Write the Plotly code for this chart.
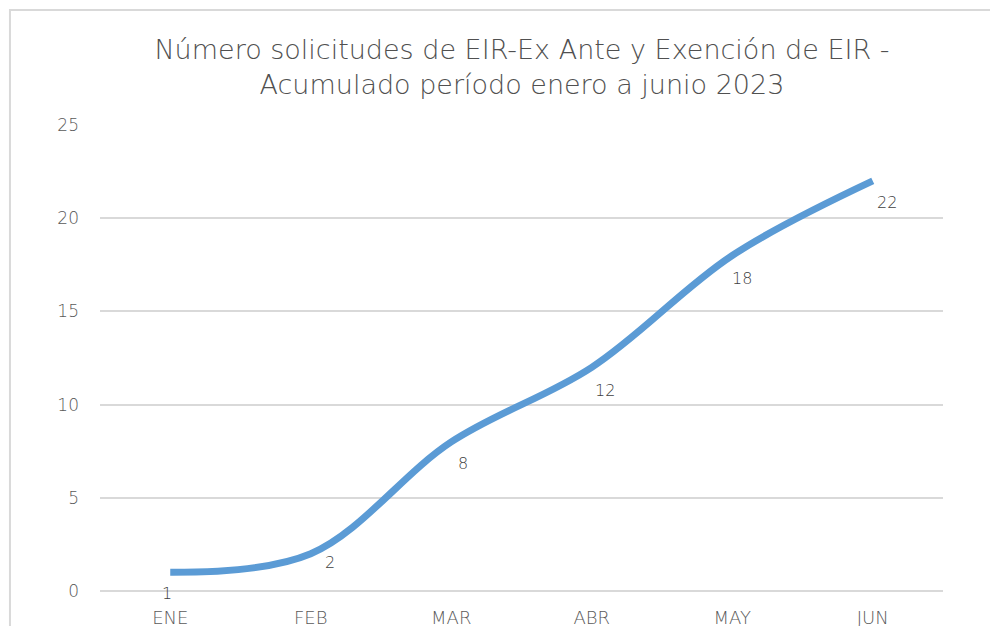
import plotly.graph_objects as go

meses = ["ENE", "FEB", "MAR", "ABR", "MAY", "JUN"]
acumulado = [1, 2, 8, 12, 18, 22]
# desplazamiento (px) de cada etiqueta respecto a su punto
etiqueta_dx = [-3, 19, 12, 13, 10, 14]
etiqueta_dy = [-21, -9, -22, -23, -23, -22]

FUENTE = "DejaVu Sans, Lato, sans-serif"

fig = go.Figure()
fig.add_trace(go.Scatter(
    x=meses, y=acumulado,
    mode="lines",
    line=dict(color="#5B9BD5", width=7, shape="spline", smoothing=1.0),
    hoverinfo="x+y",
))

for mes, val, dx, dy in zip(meses, acumulado, etiqueta_dx, etiqueta_dy):
    fig.add_annotation(x=mes, y=val, text=str(val), showarrow=False,
                       xshift=dx, yshift=dy,
                       font=dict(family=FUENTE, size=16, color="#404040", weight=200))

# borde del area del grafico (cortado a la derecha y abajo)
fig.add_shape(type="rect", xref="paper", yref="paper",
              x0=-0.1068, x1=1.3, y0=-0.3, y1=1.2468,
              line=dict(color="#d9d9d9", width=2), layer="below")

fig.update_layout(
    width=998, height=626,
    margin=dict(l=92, r=63, t=117, b=43, autoexpand=False),
    paper_bgcolor="white", plot_bgcolor="white",
    showlegend=False,
    title=dict(
        text="Número solicitudes de EIR-Ex Ante y Exención de EIR -<br>Acumulado período enero a junio 2023",
        x=0.515, xanchor="center", y=0.919, yanchor="top",
        font=dict(family=FUENTE, size=27, color="#505050", weight=200),
    ),
    font=dict(family=FUENTE, color="#595959"),
)
fig.update_xaxes(
    range=[-0.5, 5.5], showgrid=False, showline=False, zeroline=False, automargin=False,
    ticks="", tickfont=dict(size=18, color="#595959", weight=200), ticklabelstandoff=14,
)
fig.update_yaxes(
    range=[0, 25], dtick=5, showgrid=True, gridcolor="#d9d9d9", gridwidth=2, automargin=False,
    zeroline=True, zerolinecolor="#d9d9d9", zerolinewidth=2, showline=False,
    ticks="", tickfont=dict(size=17, color="#595959", weight=200), ticklabelstandoff=20,
)

fig.write_html("out.html")
